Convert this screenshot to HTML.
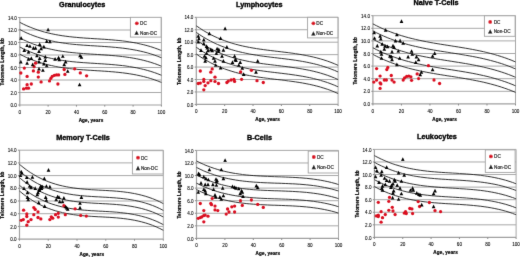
<!DOCTYPE html><html><head><meta charset="utf-8"><style>html,body{margin:0;padding:0;background:#fff;width:520px;height:257px;overflow:hidden}svg{display:block}svg{will-change:transform}</style></head><body>
<div id="w">
<svg width="520" height="257" viewBox="0 0 520 257" font-family='"Liberation Sans", sans-serif'>
<defs><filter id="bl" x="-5%" y="-5%" width="110%" height="110%"><feConvolveMatrix order="3" kernelMatrix="0.0064 0.0672 0.0064 0.0672 0.7056 0.0672 0.0064 0.0672 0.0064" edgeMode="duplicate" preserveAlpha="false"/></filter></defs>
<rect width="520" height="257" fill="#fff"/>
<g filter="url(#bl)">
<line x1="19.80" y1="92.50" x2="161.40" y2="92.50" stroke="#a8a8a8" stroke-width="1"/>
<line x1="19.80" y1="80.00" x2="161.40" y2="80.00" stroke="#a8a8a8" stroke-width="1"/>
<line x1="19.80" y1="67.50" x2="161.40" y2="67.50" stroke="#a8a8a8" stroke-width="1"/>
<line x1="19.80" y1="55.00" x2="161.40" y2="55.00" stroke="#a8a8a8" stroke-width="1"/>
<line x1="19.80" y1="42.50" x2="161.40" y2="42.50" stroke="#a8a8a8" stroke-width="1"/>
<line x1="19.80" y1="30.00" x2="161.40" y2="30.00" stroke="#a8a8a8" stroke-width="1"/>
<line x1="19.80" y1="17.50" x2="161.40" y2="17.50" stroke="#a8a8a8" stroke-width="1"/>
<line x1="161.40" y1="17.50" x2="161.40" y2="105.00" stroke="#a8a8a8" stroke-width="1"/>
<line x1="19.80" y1="17.50" x2="19.80" y2="105.00" stroke="#a0a0a0" stroke-width="1.2"/>
<line x1="19.80" y1="105.00" x2="161.40" y2="105.00" stroke="#a0a0a0" stroke-width="1.2"/>
<line x1="18.20" y1="105.00" x2="19.80" y2="105.00" stroke="#8a8a8a" stroke-width="1"/>
<text x="16.90" y="107.10" font-size="4.6" text-anchor="end" fill="#000" stroke="#000" stroke-width="0.08">0.0</text>
<line x1="18.20" y1="92.50" x2="19.80" y2="92.50" stroke="#8a8a8a" stroke-width="1"/>
<text x="16.90" y="94.60" font-size="4.6" text-anchor="end" fill="#000" stroke="#000" stroke-width="0.08">2.0</text>
<line x1="18.20" y1="80.00" x2="19.80" y2="80.00" stroke="#8a8a8a" stroke-width="1"/>
<text x="16.90" y="82.10" font-size="4.6" text-anchor="end" fill="#000" stroke="#000" stroke-width="0.08">4.0</text>
<line x1="18.20" y1="67.50" x2="19.80" y2="67.50" stroke="#8a8a8a" stroke-width="1"/>
<text x="16.90" y="69.60" font-size="4.6" text-anchor="end" fill="#000" stroke="#000" stroke-width="0.08">6.0</text>
<line x1="18.20" y1="55.00" x2="19.80" y2="55.00" stroke="#8a8a8a" stroke-width="1"/>
<text x="16.90" y="57.10" font-size="4.6" text-anchor="end" fill="#000" stroke="#000" stroke-width="0.08">8.0</text>
<line x1="18.20" y1="42.50" x2="19.80" y2="42.50" stroke="#8a8a8a" stroke-width="1"/>
<text x="16.90" y="44.60" font-size="4.6" text-anchor="end" fill="#000" stroke="#000" stroke-width="0.08">10.0</text>
<line x1="18.20" y1="30.00" x2="19.80" y2="30.00" stroke="#8a8a8a" stroke-width="1"/>
<text x="16.90" y="32.10" font-size="4.6" text-anchor="end" fill="#000" stroke="#000" stroke-width="0.08">12.0</text>
<line x1="18.20" y1="17.50" x2="19.80" y2="17.50" stroke="#8a8a8a" stroke-width="1"/>
<text x="16.90" y="19.60" font-size="4.6" text-anchor="end" fill="#000" stroke="#000" stroke-width="0.08">14.0</text>
<line x1="19.80" y1="105.00" x2="19.80" y2="106.60" stroke="#8a8a8a" stroke-width="1"/>
<text x="19.80" y="113.70" font-size="4.6" text-anchor="middle" fill="#000" stroke="#000" stroke-width="0.08">0</text>
<line x1="48.12" y1="105.00" x2="48.12" y2="106.60" stroke="#8a8a8a" stroke-width="1"/>
<text x="48.12" y="113.70" font-size="4.6" text-anchor="middle" fill="#000" stroke="#000" stroke-width="0.08">20</text>
<line x1="76.44" y1="105.00" x2="76.44" y2="106.60" stroke="#8a8a8a" stroke-width="1"/>
<text x="76.44" y="113.70" font-size="4.6" text-anchor="middle" fill="#000" stroke="#000" stroke-width="0.08">40</text>
<line x1="104.76" y1="105.00" x2="104.76" y2="106.60" stroke="#8a8a8a" stroke-width="1"/>
<text x="104.76" y="113.70" font-size="4.6" text-anchor="middle" fill="#000" stroke="#000" stroke-width="0.08">60</text>
<line x1="133.08" y1="105.00" x2="133.08" y2="106.60" stroke="#8a8a8a" stroke-width="1"/>
<text x="133.08" y="113.70" font-size="4.6" text-anchor="middle" fill="#000" stroke="#000" stroke-width="0.08">80</text>
<line x1="161.40" y1="105.00" x2="161.40" y2="106.60" stroke="#8a8a8a" stroke-width="1"/>
<text x="161.40" y="113.70" font-size="4.6" text-anchor="middle" fill="#000" stroke="#000" stroke-width="0.08">100</text>
<polyline points="19.80,22.35 23.34,24.14 26.88,25.79 30.42,27.29 33.96,28.66 37.50,29.91 41.04,31.03 44.58,32.05 48.12,32.96 51.66,33.78 55.20,34.51 58.74,35.15 62.28,35.72 65.82,36.22 69.36,36.66 72.90,37.05 76.44,37.39 79.98,37.70 83.52,37.97 87.06,38.22 90.60,38.45 94.14,38.67 97.68,38.88 101.22,39.10 104.76,39.34 108.30,39.59 111.84,39.87 115.38,40.18 118.92,40.53 122.46,40.93 126.00,41.39 129.54,41.90 133.08,42.49 136.62,43.15 140.16,43.90 143.70,44.74 147.24,45.67 150.78,46.71 154.32,47.87 157.86,49.14 161.40,50.54" fill="none" stroke="#1a1a1a" stroke-width="0.9"/>
<polyline points="19.80,29.54 23.34,31.33 26.88,32.97 30.42,34.48 33.96,35.85 37.50,37.09 41.04,38.22 44.58,39.24 48.12,40.15 51.66,40.97 55.20,41.69 58.74,42.34 62.28,42.91 65.82,43.41 69.36,43.85 72.90,44.24 76.44,44.58 79.98,44.88 83.52,45.16 87.06,45.40 90.60,45.63 94.14,45.85 97.68,46.07 101.22,46.29 104.76,46.52 108.30,46.78 111.84,47.06 115.38,47.37 118.92,47.72 122.46,48.12 126.00,48.57 129.54,49.09 133.08,49.68 136.62,50.34 140.16,51.09 143.70,51.92 147.24,52.86 150.78,53.90 154.32,55.06 157.86,56.33 161.40,57.73" fill="none" stroke="#1a1a1a" stroke-width="0.9"/>
<polyline points="19.80,37.98 23.34,39.77 26.88,41.41 30.42,42.91 33.96,44.29 37.50,45.53 41.04,46.66 44.58,47.68 48.12,48.59 51.66,49.40 55.20,50.13 58.74,50.78 62.28,51.35 65.82,51.85 69.36,52.29 72.90,52.68 76.44,53.02 79.98,53.32 83.52,53.59 87.06,53.84 90.60,54.07 94.14,54.29 97.68,54.51 101.22,54.73 104.76,54.96 108.30,55.21 111.84,55.49 115.38,55.80 118.92,56.16 122.46,56.56 126.00,57.01 129.54,57.53 133.08,58.11 136.62,58.78 140.16,59.52 143.70,60.36 147.24,61.30 150.78,62.34 154.32,63.49 157.86,64.77 161.40,66.17" fill="none" stroke="#1a1a1a" stroke-width="0.9"/>
<polyline points="19.80,47.04 23.34,48.83 26.88,50.47 30.42,51.98 33.96,53.35 37.50,54.59 41.04,55.72 44.58,56.74 48.12,57.65 51.66,58.47 55.20,59.19 58.74,59.84 62.28,60.41 65.82,60.91 69.36,61.35 72.90,61.74 76.44,62.08 79.98,62.38 83.52,62.66 87.06,62.90 90.60,63.13 94.14,63.35 97.68,63.57 101.22,63.79 104.76,64.02 108.30,64.28 111.84,64.56 115.38,64.87 118.92,65.22 122.46,65.62 126.00,66.07 129.54,66.59 133.08,67.18 136.62,67.84 140.16,68.59 143.70,69.42 147.24,70.36 150.78,71.40 154.32,72.56 157.86,73.83 161.40,75.23" fill="none" stroke="#1a1a1a" stroke-width="0.9"/>
<polyline points="19.80,54.23 23.34,56.02 26.88,57.66 30.42,59.16 33.96,60.54 37.50,61.78 41.04,62.91 44.58,63.93 48.12,64.84 51.66,65.65 55.20,66.38 58.74,67.03 62.28,67.60 65.82,68.10 69.36,68.54 72.90,68.93 76.44,69.27 79.98,69.57 83.52,69.84 87.06,70.09 90.60,70.32 94.14,70.54 97.68,70.76 101.22,70.98 104.76,71.21 108.30,71.46 111.84,71.74 115.38,72.05 118.92,72.41 122.46,72.81 126.00,73.26 129.54,73.78 133.08,74.36 136.62,75.03 140.16,75.77 143.70,76.61 147.24,77.55 150.78,78.59 154.32,79.74 157.86,81.02 161.40,82.42" fill="none" stroke="#1a1a1a" stroke-width="0.9"/>
<circle cx="35.50" cy="63.20" r="1.65" fill="#da1020"/>
<circle cx="34.10" cy="66.70" r="1.65" fill="#da1020"/>
<circle cx="24.30" cy="68.10" r="1.65" fill="#da1020"/>
<circle cx="20.80" cy="73.00" r="1.65" fill="#da1020"/>
<circle cx="27.10" cy="76.40" r="1.65" fill="#da1020"/>
<circle cx="33.40" cy="70.90" r="1.65" fill="#da1020"/>
<circle cx="38.30" cy="72.20" r="1.65" fill="#da1020"/>
<circle cx="38.30" cy="77.10" r="1.65" fill="#da1020"/>
<circle cx="64.20" cy="69.50" r="1.65" fill="#da1020"/>
<circle cx="64.90" cy="74.40" r="1.65" fill="#da1020"/>
<circle cx="74.70" cy="68.80" r="1.65" fill="#da1020"/>
<circle cx="80.30" cy="72.90" r="1.65" fill="#da1020"/>
<circle cx="86.60" cy="75.80" r="1.65" fill="#da1020"/>
<circle cx="41.10" cy="81.90" r="1.65" fill="#da1020"/>
<circle cx="49.50" cy="80.90" r="1.65" fill="#da1020"/>
<circle cx="50.90" cy="78.40" r="1.65" fill="#da1020"/>
<circle cx="52.30" cy="76.30" r="1.65" fill="#da1020"/>
<circle cx="54.40" cy="75.30" r="1.65" fill="#da1020"/>
<circle cx="56.50" cy="74.90" r="1.65" fill="#da1020"/>
<circle cx="58.60" cy="74.90" r="1.65" fill="#da1020"/>
<circle cx="57.90" cy="84.00" r="1.65" fill="#da1020"/>
<circle cx="27.10" cy="84.70" r="1.65" fill="#da1020"/>
<circle cx="31.30" cy="84.00" r="1.65" fill="#da1020"/>
<circle cx="23.60" cy="88.90" r="1.65" fill="#da1020"/>
<circle cx="26.40" cy="88.20" r="1.65" fill="#da1020"/>
<circle cx="28.50" cy="88.20" r="1.65" fill="#da1020"/>
<path d="M48.10 27.66L49.95 31.36L46.25 31.36Z" fill="#000"/>
<path d="M21.10 36.06L22.95 39.77L19.25 39.77Z" fill="#000"/>
<path d="M46.70 39.27L48.55 42.96L44.85 42.96Z" fill="#000"/>
<path d="M49.90 39.56L51.75 43.27L48.05 43.27Z" fill="#000"/>
<path d="M27.10 43.27L28.95 46.96L25.25 46.96Z" fill="#000"/>
<path d="M29.90 44.17L31.75 47.87L28.05 47.87Z" fill="#000"/>
<path d="M39.70 42.36L41.55 46.06L37.85 46.06Z" fill="#000"/>
<path d="M43.90 44.77L45.75 48.46L42.05 48.46Z" fill="#000"/>
<path d="M33.40 46.06L35.25 49.77L31.55 49.77Z" fill="#000"/>
<path d="M35.50 46.06L37.35 49.77L33.65 49.77Z" fill="#000"/>
<path d="M41.10 46.56L42.95 50.27L39.25 50.27Z" fill="#000"/>
<path d="M24.30 48.27L26.15 51.96L22.45 51.96Z" fill="#000"/>
<path d="M39.00 49.27L40.85 52.96L37.15 52.96Z" fill="#000"/>
<path d="M28.50 49.97L30.35 53.66L26.65 53.66Z" fill="#000"/>
<path d="M36.90 53.47L38.75 57.16L35.05 57.16Z" fill="#000"/>
<path d="M28.50 56.97L30.35 60.66L26.65 60.66Z" fill="#000"/>
<path d="M31.30 56.27L33.15 59.96L29.45 59.96Z" fill="#000"/>
<path d="M39.70 56.27L41.55 59.96L37.85 59.96Z" fill="#000"/>
<path d="M45.30 54.86L47.15 58.56L43.45 58.56Z" fill="#000"/>
<path d="M45.30 58.36L47.15 62.06L43.45 62.06Z" fill="#000"/>
<path d="M55.10 56.97L56.95 60.66L53.25 60.66Z" fill="#000"/>
<path d="M58.60 55.56L60.45 59.27L56.75 59.27Z" fill="#000"/>
<path d="M59.30 57.67L61.15 61.37L57.45 61.37Z" fill="#000"/>
<path d="M62.80 54.17L64.65 57.87L60.95 57.87Z" fill="#000"/>
<path d="M80.00 53.56L81.85 57.27L78.15 57.27Z" fill="#000"/>
<path d="M81.40 54.97L83.25 58.66L79.55 58.66Z" fill="#000"/>
<path d="M20.80 59.77L22.65 63.46L18.95 63.46Z" fill="#000"/>
<path d="M27.10 61.17L28.95 64.87L25.25 64.87Z" fill="#000"/>
<path d="M32.70 62.56L34.55 66.27L30.85 66.27Z" fill="#000"/>
<path d="M39.00 59.77L40.85 63.46L37.15 63.46Z" fill="#000"/>
<path d="M43.90 61.86L45.75 65.56L42.05 65.56Z" fill="#000"/>
<path d="M46.70 63.67L48.55 67.37L44.85 67.37Z" fill="#000"/>
<path d="M65.60 59.77L67.45 63.46L63.75 63.46Z" fill="#000"/>
<path d="M64.20 62.56L66.05 66.27L62.35 66.27Z" fill="#000"/>
<path d="M39.00 66.77L40.85 70.47L37.15 70.47Z" fill="#000"/>
<path d="M42.90 68.17L44.75 71.87L41.05 71.87Z" fill="#000"/>
<path d="M67.70 69.17L69.55 72.87L65.85 72.87Z" fill="#000"/>
<path d="M79.60 82.67L81.45 86.37L77.75 86.37Z" fill="#000"/>
<rect x="130.40" y="17.30" width="30.70" height="19.80" fill="#fff" stroke="#a0a0a0" stroke-width="0.9"/>
<circle cx="136.80" cy="23.30" r="1.9" fill="#da1020"/>
<text x="140.10" y="25.10" font-size="4.7" fill="#000" stroke="#000" stroke-width="0.15">DC</text>
<path d="M136.60 30.38L138.80 34.78L134.40 34.78Z" fill="#000"/>
<text x="140.10" y="34.60" font-size="4.7" fill="#000" stroke="#000" stroke-width="0.15">Non-DC</text>
<text x="82.20" y="6.60" font-size="7.25" font-weight="bold" text-anchor="middle" fill="#000" stroke="#000" stroke-width="0.35">Granulocytes</text>
<text x="91.00" y="121.70" font-size="4.6" letter-spacing="0.15" stroke="#000" stroke-width="0.22" font-weight="bold" text-anchor="middle" fill="#111">Age, years</text>
<text transform="translate(4.00,61.75) rotate(-90)" x="0" y="0" font-size="4.6" letter-spacing="0.15" stroke="#000" stroke-width="0.22" font-weight="bold" text-anchor="middle" fill="#111">Telomere Length, kb</text>
<line x1="196.30" y1="91.96" x2="338.10" y2="91.96" stroke="#a8a8a8" stroke-width="1"/>
<line x1="196.30" y1="79.51" x2="338.10" y2="79.51" stroke="#a8a8a8" stroke-width="1"/>
<line x1="196.30" y1="67.07" x2="338.10" y2="67.07" stroke="#a8a8a8" stroke-width="1"/>
<line x1="196.30" y1="54.63" x2="338.10" y2="54.63" stroke="#a8a8a8" stroke-width="1"/>
<line x1="196.30" y1="42.19" x2="338.10" y2="42.19" stroke="#a8a8a8" stroke-width="1"/>
<line x1="196.30" y1="29.74" x2="338.10" y2="29.74" stroke="#a8a8a8" stroke-width="1"/>
<line x1="196.30" y1="17.30" x2="338.10" y2="17.30" stroke="#a8a8a8" stroke-width="1"/>
<line x1="338.10" y1="17.30" x2="338.10" y2="104.40" stroke="#a8a8a8" stroke-width="1"/>
<line x1="196.30" y1="17.30" x2="196.30" y2="104.40" stroke="#a0a0a0" stroke-width="1.2"/>
<line x1="196.30" y1="104.40" x2="338.10" y2="104.40" stroke="#a0a0a0" stroke-width="1.2"/>
<line x1="194.70" y1="104.40" x2="196.30" y2="104.40" stroke="#8a8a8a" stroke-width="1"/>
<text x="193.40" y="106.50" font-size="4.6" text-anchor="end" fill="#000" stroke="#000" stroke-width="0.08">0.0</text>
<line x1="194.70" y1="91.96" x2="196.30" y2="91.96" stroke="#8a8a8a" stroke-width="1"/>
<text x="193.40" y="94.06" font-size="4.6" text-anchor="end" fill="#000" stroke="#000" stroke-width="0.08">2.0</text>
<line x1="194.70" y1="79.51" x2="196.30" y2="79.51" stroke="#8a8a8a" stroke-width="1"/>
<text x="193.40" y="81.61" font-size="4.6" text-anchor="end" fill="#000" stroke="#000" stroke-width="0.08">4.0</text>
<line x1="194.70" y1="67.07" x2="196.30" y2="67.07" stroke="#8a8a8a" stroke-width="1"/>
<text x="193.40" y="69.17" font-size="4.6" text-anchor="end" fill="#000" stroke="#000" stroke-width="0.08">6.0</text>
<line x1="194.70" y1="54.63" x2="196.30" y2="54.63" stroke="#8a8a8a" stroke-width="1"/>
<text x="193.40" y="56.73" font-size="4.6" text-anchor="end" fill="#000" stroke="#000" stroke-width="0.08">8.0</text>
<line x1="194.70" y1="42.19" x2="196.30" y2="42.19" stroke="#8a8a8a" stroke-width="1"/>
<text x="193.40" y="44.29" font-size="4.6" text-anchor="end" fill="#000" stroke="#000" stroke-width="0.08">10.0</text>
<line x1="194.70" y1="29.74" x2="196.30" y2="29.74" stroke="#8a8a8a" stroke-width="1"/>
<text x="193.40" y="31.84" font-size="4.6" text-anchor="end" fill="#000" stroke="#000" stroke-width="0.08">12.0</text>
<line x1="194.70" y1="17.30" x2="196.30" y2="17.30" stroke="#8a8a8a" stroke-width="1"/>
<text x="193.40" y="19.40" font-size="4.6" text-anchor="end" fill="#000" stroke="#000" stroke-width="0.08">14.0</text>
<line x1="196.30" y1="104.40" x2="196.30" y2="106.00" stroke="#8a8a8a" stroke-width="1"/>
<text x="196.30" y="113.10" font-size="4.6" text-anchor="middle" fill="#000" stroke="#000" stroke-width="0.08">0</text>
<line x1="224.66" y1="104.40" x2="224.66" y2="106.00" stroke="#8a8a8a" stroke-width="1"/>
<text x="224.66" y="113.10" font-size="4.6" text-anchor="middle" fill="#000" stroke="#000" stroke-width="0.08">20</text>
<line x1="253.02" y1="104.40" x2="253.02" y2="106.00" stroke="#8a8a8a" stroke-width="1"/>
<text x="253.02" y="113.10" font-size="4.6" text-anchor="middle" fill="#000" stroke="#000" stroke-width="0.08">40</text>
<line x1="281.38" y1="104.40" x2="281.38" y2="106.00" stroke="#8a8a8a" stroke-width="1"/>
<text x="281.38" y="113.10" font-size="4.6" text-anchor="middle" fill="#000" stroke="#000" stroke-width="0.08">60</text>
<line x1="309.74" y1="104.40" x2="309.74" y2="106.00" stroke="#8a8a8a" stroke-width="1"/>
<text x="309.74" y="113.10" font-size="4.6" text-anchor="middle" fill="#000" stroke="#000" stroke-width="0.08">80</text>
<line x1="338.10" y1="104.40" x2="338.10" y2="106.00" stroke="#8a8a8a" stroke-width="1"/>
<text x="338.10" y="113.10" font-size="4.6" text-anchor="middle" fill="#000" stroke="#000" stroke-width="0.08">100</text>
<polyline points="196.30,25.84 199.84,28.26 203.39,30.50 206.94,32.58 210.48,34.50 214.03,36.26 217.57,37.89 221.12,39.38 224.66,40.74 228.21,41.98 231.75,43.11 235.30,44.14 238.84,45.08 242.39,45.93 245.93,46.70 249.48,47.39 253.02,48.03 256.56,48.61 260.11,49.15 263.66,49.64 267.20,50.11 270.75,50.55 274.29,50.98 277.84,51.40 281.38,51.83 284.93,52.26 288.47,52.71 292.01,53.19 295.56,53.70 299.11,54.25 302.65,54.85 306.20,55.51 309.74,56.23 313.29,57.03 316.83,57.91 320.38,58.88 323.92,59.94 327.47,61.12 331.01,62.40 334.56,63.81 338.10,65.35" fill="none" stroke="#1a1a1a" stroke-width="0.9"/>
<polyline points="196.30,32.44 199.84,34.85 203.39,37.10 206.94,39.17 210.48,41.09 214.03,42.86 217.57,44.48 221.12,45.97 224.66,47.33 228.21,48.58 231.75,49.71 235.30,50.74 238.84,51.67 242.39,52.52 245.93,53.29 249.48,53.99 253.02,54.62 256.56,55.21 260.11,55.74 263.66,56.24 267.20,56.70 270.75,57.15 274.29,57.57 277.84,58.00 281.38,58.42 284.93,58.85 288.47,59.30 292.01,59.78 295.56,60.29 299.11,60.84 302.65,61.44 306.20,62.10 309.74,62.83 313.29,63.62 316.83,64.50 320.38,65.47 323.92,66.54 327.47,67.71 331.01,69.00 334.56,70.41 338.10,71.95" fill="none" stroke="#1a1a1a" stroke-width="0.9"/>
<polyline points="196.30,40.03 199.84,42.44 203.39,44.69 206.94,46.76 210.48,48.68 214.03,50.45 217.57,52.07 221.12,53.56 224.66,54.92 228.21,56.17 231.75,57.30 235.30,58.33 238.84,59.26 242.39,60.11 245.93,60.88 249.48,61.58 253.02,62.21 256.56,62.80 260.11,63.33 263.66,63.83 267.20,64.29 270.75,64.74 274.29,65.16 277.84,65.59 281.38,66.01 284.93,66.44 288.47,66.89 292.01,67.37 295.56,67.88 299.11,68.43 302.65,69.03 306.20,69.69 309.74,70.42 313.29,71.21 316.83,72.09 320.38,73.06 323.92,74.13 327.47,75.30 331.01,76.59 334.56,78.00 338.10,79.54" fill="none" stroke="#1a1a1a" stroke-width="0.9"/>
<polyline points="196.30,47.30 199.84,49.72 203.39,51.97 206.94,54.04 210.48,55.96 214.03,57.73 217.57,59.35 221.12,60.84 224.66,62.20 228.21,63.44 231.75,64.58 235.30,65.61 238.84,66.54 242.39,67.39 245.93,68.16 249.48,68.86 253.02,69.49 256.56,70.08 260.11,70.61 263.66,71.11 267.20,71.57 270.75,72.02 274.29,72.44 277.84,72.87 281.38,73.29 284.93,73.72 288.47,74.17 292.01,74.65 295.56,75.16 299.11,75.71 302.65,76.31 306.20,76.97 309.74,77.69 313.29,78.49 316.83,79.37 320.38,80.34 323.92,81.41 327.47,82.58 331.01,83.87 334.56,85.28 338.10,86.81" fill="none" stroke="#1a1a1a" stroke-width="0.9"/>
<polyline points="196.30,54.02 199.84,56.44 203.39,58.69 206.94,60.76 210.48,62.68 214.03,64.45 217.57,66.07 221.12,67.56 224.66,68.92 228.21,70.16 231.75,71.30 235.30,72.33 238.84,73.26 242.39,74.11 245.93,74.88 249.48,75.58 253.02,76.21 256.56,76.79 260.11,77.33 263.66,77.83 267.20,78.29 270.75,78.73 274.29,79.16 277.84,79.59 281.38,80.01 284.93,80.44 288.47,80.89 292.01,81.37 295.56,81.88 299.11,82.43 302.65,83.03 306.20,83.69 309.74,84.41 313.29,85.21 316.83,86.09 320.38,87.06 323.92,88.13 327.47,89.30 331.01,90.59 334.56,92.00 338.10,93.53" fill="none" stroke="#1a1a1a" stroke-width="0.9"/>
<circle cx="200.30" cy="71.00" r="1.65" fill="#da1020"/>
<circle cx="212.20" cy="68.90" r="1.65" fill="#da1020"/>
<circle cx="210.80" cy="72.20" r="1.65" fill="#da1020"/>
<circle cx="240.60" cy="71.90" r="1.65" fill="#da1020"/>
<circle cx="251.40" cy="70.30" r="1.65" fill="#da1020"/>
<circle cx="203.80" cy="79.30" r="1.65" fill="#da1020"/>
<circle cx="198.20" cy="83.50" r="1.65" fill="#da1020"/>
<circle cx="200.30" cy="83.10" r="1.65" fill="#da1020"/>
<circle cx="203.80" cy="81.40" r="1.65" fill="#da1020"/>
<circle cx="205.20" cy="85.60" r="1.65" fill="#da1020"/>
<circle cx="203.80" cy="89.80" r="1.65" fill="#da1020"/>
<circle cx="208.00" cy="82.80" r="1.65" fill="#da1020"/>
<circle cx="210.80" cy="80.70" r="1.65" fill="#da1020"/>
<circle cx="215.00" cy="77.20" r="1.65" fill="#da1020"/>
<circle cx="215.00" cy="81.40" r="1.65" fill="#da1020"/>
<circle cx="218.50" cy="83.50" r="1.65" fill="#da1020"/>
<circle cx="226.90" cy="82.50" r="1.65" fill="#da1020"/>
<circle cx="228.30" cy="81.10" r="1.65" fill="#da1020"/>
<circle cx="231.10" cy="80.00" r="1.65" fill="#da1020"/>
<circle cx="233.90" cy="79.30" r="1.65" fill="#da1020"/>
<circle cx="234.60" cy="81.40" r="1.65" fill="#da1020"/>
<circle cx="241.60" cy="79.30" r="1.65" fill="#da1020"/>
<circle cx="257.00" cy="80.70" r="1.65" fill="#da1020"/>
<circle cx="263.30" cy="82.50" r="1.65" fill="#da1020"/>
<path d="M225.10 26.57L226.95 30.27L223.25 30.27Z" fill="#000"/>
<path d="M209.40 31.46L211.25 35.16L207.55 35.16Z" fill="#000"/>
<path d="M220.60 36.36L222.45 40.06L218.75 40.06Z" fill="#000"/>
<path d="M198.20 33.97L200.05 37.66L196.35 37.66Z" fill="#000"/>
<path d="M198.90 36.47L200.75 40.16L197.05 40.16Z" fill="#000"/>
<path d="M203.80 37.86L205.65 41.56L201.95 41.56Z" fill="#000"/>
<path d="M198.20 39.77L200.05 43.46L196.35 43.46Z" fill="#000"/>
<path d="M203.80 41.56L205.65 45.27L201.95 45.27Z" fill="#000"/>
<path d="M206.60 44.36L208.45 48.06L204.75 48.06Z" fill="#000"/>
<path d="M207.30 45.86L209.15 49.56L205.45 49.56Z" fill="#000"/>
<path d="M210.80 47.47L212.65 51.16L208.95 51.16Z" fill="#000"/>
<path d="M212.20 48.47L214.05 52.16L210.35 52.16Z" fill="#000"/>
<path d="M217.10 46.77L218.95 50.46L215.25 50.46Z" fill="#000"/>
<path d="M218.80 47.47L220.65 51.16L216.95 51.16Z" fill="#000"/>
<path d="M223.40 48.06L225.25 51.77L221.55 51.77Z" fill="#000"/>
<path d="M226.90 45.06L228.75 48.77L225.05 48.77Z" fill="#000"/>
<path d="M201.00 48.27L202.85 51.96L199.15 51.96Z" fill="#000"/>
<path d="M208.00 48.47L209.85 52.16L206.15 52.16Z" fill="#000"/>
<path d="M218.50 49.17L220.35 52.87L216.65 52.87Z" fill="#000"/>
<path d="M206.60 51.27L208.45 54.96L204.75 54.96Z" fill="#000"/>
<path d="M216.40 51.27L218.25 54.96L214.55 54.96Z" fill="#000"/>
<path d="M204.50 54.06L206.35 57.77L202.65 57.77Z" fill="#000"/>
<path d="M205.90 55.47L207.75 59.16L204.05 59.16Z" fill="#000"/>
<path d="M222.00 54.06L223.85 57.77L220.15 57.77Z" fill="#000"/>
<path d="M213.60 56.17L215.45 59.87L211.75 59.87Z" fill="#000"/>
<path d="M234.60 54.06L236.45 57.77L232.75 57.77Z" fill="#000"/>
<path d="M235.30 57.56L237.15 61.27L233.45 61.27Z" fill="#000"/>
<path d="M236.00 58.27L237.85 61.96L234.15 61.96Z" fill="#000"/>
<path d="M205.20 58.97L207.05 62.66L203.35 62.66Z" fill="#000"/>
<path d="M215.00 58.97L216.85 62.66L213.15 62.66Z" fill="#000"/>
<path d="M223.40 58.97L225.25 62.66L221.55 62.66Z" fill="#000"/>
<path d="M232.50 60.36L234.35 64.06L230.65 64.06Z" fill="#000"/>
<path d="M240.20 60.36L242.05 64.06L238.35 64.06Z" fill="#000"/>
<path d="M238.80 63.17L240.65 66.87L236.95 66.87Z" fill="#000"/>
<path d="M257.70 58.97L259.55 62.66L255.85 62.66Z" fill="#000"/>
<path d="M215.70 63.17L217.55 66.87L213.85 66.87Z" fill="#000"/>
<path d="M220.60 65.77L222.45 69.47L218.75 69.47Z" fill="#000"/>
<path d="M242.30 65.97L244.15 69.67L240.45 69.67Z" fill="#000"/>
<path d="M256.00 69.97L257.85 73.67L254.15 73.67Z" fill="#000"/>
<path d="M243.70 72.37L245.55 76.07L241.85 76.07Z" fill="#000"/>
<rect x="307.60" y="17.30" width="30.30" height="20.60" fill="#fff" stroke="#a0a0a0" stroke-width="0.9"/>
<circle cx="313.40" cy="23.30" r="1.9" fill="#da1020"/>
<text x="316.30" y="25.10" font-size="4.7" fill="#000" stroke="#000" stroke-width="0.15">DC</text>
<path d="M313.40 31.18L315.60 35.58L311.20 35.58Z" fill="#000"/>
<text x="316.30" y="35.40" font-size="4.7" fill="#000" stroke="#000" stroke-width="0.15">Non-DC</text>
<text x="259.25" y="6.60" font-size="7.25" font-weight="bold" text-anchor="middle" fill="#000" stroke="#000" stroke-width="0.35">Lymphocytes</text>
<text x="267.60" y="121.10" font-size="4.6" letter-spacing="0.15" stroke="#000" stroke-width="0.22" font-weight="bold" text-anchor="middle" fill="#111">Age, years</text>
<text transform="translate(180.50,61.35) rotate(-90)" x="0" y="0" font-size="4.6" letter-spacing="0.15" stroke="#000" stroke-width="0.22" font-weight="bold" text-anchor="middle" fill="#111">Telomere Length, kb</text>
<line x1="372.90" y1="91.30" x2="515.50" y2="91.30" stroke="#a8a8a8" stroke-width="1"/>
<line x1="372.90" y1="78.70" x2="515.50" y2="78.70" stroke="#a8a8a8" stroke-width="1"/>
<line x1="372.90" y1="66.10" x2="515.50" y2="66.10" stroke="#a8a8a8" stroke-width="1"/>
<line x1="372.90" y1="53.50" x2="515.50" y2="53.50" stroke="#a8a8a8" stroke-width="1"/>
<line x1="372.90" y1="40.90" x2="515.50" y2="40.90" stroke="#a8a8a8" stroke-width="1"/>
<line x1="372.90" y1="28.30" x2="515.50" y2="28.30" stroke="#a8a8a8" stroke-width="1"/>
<line x1="372.90" y1="15.70" x2="515.50" y2="15.70" stroke="#a8a8a8" stroke-width="1"/>
<line x1="515.50" y1="15.70" x2="515.50" y2="103.90" stroke="#a8a8a8" stroke-width="1"/>
<line x1="372.90" y1="15.70" x2="372.90" y2="103.90" stroke="#a0a0a0" stroke-width="1.2"/>
<line x1="372.90" y1="103.90" x2="515.50" y2="103.90" stroke="#a0a0a0" stroke-width="1.2"/>
<line x1="371.30" y1="103.90" x2="372.90" y2="103.90" stroke="#8a8a8a" stroke-width="1"/>
<text x="370.00" y="106.00" font-size="4.6" text-anchor="end" fill="#000" stroke="#000" stroke-width="0.08">0.0</text>
<line x1="371.30" y1="91.30" x2="372.90" y2="91.30" stroke="#8a8a8a" stroke-width="1"/>
<text x="370.00" y="93.40" font-size="4.6" text-anchor="end" fill="#000" stroke="#000" stroke-width="0.08">2.0</text>
<line x1="371.30" y1="78.70" x2="372.90" y2="78.70" stroke="#8a8a8a" stroke-width="1"/>
<text x="370.00" y="80.80" font-size="4.6" text-anchor="end" fill="#000" stroke="#000" stroke-width="0.08">4.0</text>
<line x1="371.30" y1="66.10" x2="372.90" y2="66.10" stroke="#8a8a8a" stroke-width="1"/>
<text x="370.00" y="68.20" font-size="4.6" text-anchor="end" fill="#000" stroke="#000" stroke-width="0.08">6.0</text>
<line x1="371.30" y1="53.50" x2="372.90" y2="53.50" stroke="#8a8a8a" stroke-width="1"/>
<text x="370.00" y="55.60" font-size="4.6" text-anchor="end" fill="#000" stroke="#000" stroke-width="0.08">8.0</text>
<line x1="371.30" y1="40.90" x2="372.90" y2="40.90" stroke="#8a8a8a" stroke-width="1"/>
<text x="370.00" y="43.00" font-size="4.6" text-anchor="end" fill="#000" stroke="#000" stroke-width="0.08">10.0</text>
<line x1="371.30" y1="28.30" x2="372.90" y2="28.30" stroke="#8a8a8a" stroke-width="1"/>
<text x="370.00" y="30.40" font-size="4.6" text-anchor="end" fill="#000" stroke="#000" stroke-width="0.08">12.0</text>
<line x1="371.30" y1="15.70" x2="372.90" y2="15.70" stroke="#8a8a8a" stroke-width="1"/>
<text x="370.00" y="17.80" font-size="4.6" text-anchor="end" fill="#000" stroke="#000" stroke-width="0.08">14.0</text>
<line x1="372.90" y1="103.90" x2="372.90" y2="105.50" stroke="#8a8a8a" stroke-width="1"/>
<text x="372.90" y="112.60" font-size="4.6" text-anchor="middle" fill="#000" stroke="#000" stroke-width="0.08">0</text>
<line x1="401.42" y1="103.90" x2="401.42" y2="105.50" stroke="#8a8a8a" stroke-width="1"/>
<text x="401.42" y="112.60" font-size="4.6" text-anchor="middle" fill="#000" stroke="#000" stroke-width="0.08">20</text>
<line x1="429.94" y1="103.90" x2="429.94" y2="105.50" stroke="#8a8a8a" stroke-width="1"/>
<text x="429.94" y="112.60" font-size="4.6" text-anchor="middle" fill="#000" stroke="#000" stroke-width="0.08">40</text>
<line x1="458.46" y1="103.90" x2="458.46" y2="105.50" stroke="#8a8a8a" stroke-width="1"/>
<text x="458.46" y="112.60" font-size="4.6" text-anchor="middle" fill="#000" stroke="#000" stroke-width="0.08">60</text>
<line x1="486.98" y1="103.90" x2="486.98" y2="105.50" stroke="#8a8a8a" stroke-width="1"/>
<text x="486.98" y="112.60" font-size="4.6" text-anchor="middle" fill="#000" stroke="#000" stroke-width="0.08">80</text>
<line x1="515.50" y1="103.90" x2="515.50" y2="105.50" stroke="#8a8a8a" stroke-width="1"/>
<text x="515.50" y="112.60" font-size="4.6" text-anchor="middle" fill="#000" stroke="#000" stroke-width="0.08">100</text>
<polyline points="372.90,23.89 376.46,25.74 380.03,27.47 383.59,29.08 387.16,30.59 390.72,31.99 394.29,33.30 397.85,34.52 401.42,35.65 404.98,36.71 408.55,37.69 412.12,38.61 415.68,39.46 419.25,40.26 422.81,41.01 426.38,41.71 429.94,42.38 433.50,43.01 437.07,43.62 440.63,44.21 444.20,44.78 447.76,45.34 451.33,45.90 454.89,46.46 458.46,47.03 462.02,47.61 465.59,48.21 469.15,48.83 472.72,49.49 476.28,50.19 479.85,50.92 483.41,51.71 486.98,52.55 490.54,53.45 494.11,54.41 497.68,55.45 501.24,56.57 504.80,57.76 508.37,59.05 511.94,60.43 515.50,61.91" fill="none" stroke="#1a1a1a" stroke-width="0.9"/>
<polyline points="372.90,30.88 376.46,32.73 380.03,34.46 383.59,36.07 387.16,37.58 390.72,38.99 394.29,40.29 397.85,41.51 401.42,42.65 404.98,43.70 408.55,44.69 412.12,45.60 415.68,46.45 419.25,47.25 422.81,48.00 426.38,48.71 429.94,49.37 433.50,50.01 437.07,50.61 440.63,51.20 444.20,51.77 447.76,52.33 451.33,52.89 454.89,53.45 458.46,54.02 462.02,54.60 465.59,55.20 469.15,55.83 472.72,56.49 476.28,57.18 479.85,57.92 483.41,58.70 486.98,59.54 490.54,60.44 494.11,61.41 497.68,62.44 501.24,63.56 504.80,64.76 508.37,66.04 511.94,67.42 515.50,68.90" fill="none" stroke="#1a1a1a" stroke-width="0.9"/>
<polyline points="372.90,39.26 376.46,41.11 380.03,42.84 383.59,44.45 387.16,45.96 390.72,47.36 394.29,48.67 397.85,49.89 401.42,51.03 404.98,52.08 408.55,53.06 412.12,53.98 415.68,54.83 419.25,55.63 422.81,56.38 426.38,57.09 429.94,57.75 433.50,58.39 437.07,58.99 440.63,59.58 444.20,60.15 447.76,60.71 451.33,61.27 454.89,61.83 458.46,62.40 462.02,62.98 465.59,63.58 469.15,64.21 472.72,64.86 476.28,65.56 479.85,66.30 483.41,67.08 486.98,67.92 490.54,68.82 494.11,69.79 497.68,70.82 501.24,71.94 504.80,73.13 508.37,74.42 511.94,75.80 515.50,77.28" fill="none" stroke="#1a1a1a" stroke-width="0.9"/>
<polyline points="372.90,47.77 376.46,49.62 380.03,51.34 383.59,52.96 387.16,54.46 390.72,55.87 394.29,57.18 397.85,58.40 401.42,59.53 404.98,60.59 408.55,61.57 412.12,62.48 415.68,63.34 419.25,64.14 422.81,64.89 426.38,65.59 429.94,66.26 433.50,66.89 437.07,67.50 440.63,68.08 444.20,68.65 447.76,69.22 451.33,69.77 454.89,70.33 458.46,70.90 462.02,71.48 465.59,72.09 469.15,72.71 472.72,73.37 476.28,74.06 479.85,74.80 483.41,75.59 486.98,76.43 490.54,77.33 494.11,78.29 497.68,79.33 501.24,80.44 504.80,81.64 508.37,82.93 511.94,84.31 515.50,85.79" fill="none" stroke="#1a1a1a" stroke-width="0.9"/>
<polyline points="372.90,54.38 376.46,56.23 380.03,57.96 383.59,59.57 387.16,61.08 390.72,62.48 394.29,63.79 397.85,65.01 401.42,66.15 404.98,67.20 408.55,68.18 412.12,69.10 415.68,69.95 419.25,70.75 422.81,71.50 426.38,72.21 429.94,72.87 433.50,73.51 437.07,74.11 440.63,74.70 444.20,75.27 447.76,75.83 451.33,76.39 454.89,76.95 458.46,77.52 462.02,78.10 465.59,78.70 469.15,79.33 472.72,79.98 476.28,80.68 479.85,81.42 483.41,82.20 486.98,83.04 490.54,83.94 494.11,84.91 497.68,85.94 501.24,87.06 504.80,88.25 508.37,89.54 511.94,90.92 515.50,92.40" fill="none" stroke="#1a1a1a" stroke-width="0.9"/>
<circle cx="376.60" cy="68.60" r="1.65" fill="#da1020"/>
<circle cx="387.80" cy="67.40" r="1.65" fill="#da1020"/>
<circle cx="386.80" cy="69.60" r="1.65" fill="#da1020"/>
<circle cx="428.40" cy="65.70" r="1.65" fill="#da1020"/>
<circle cx="417.20" cy="73.90" r="1.65" fill="#da1020"/>
<circle cx="380.10" cy="76.10" r="1.65" fill="#da1020"/>
<circle cx="391.30" cy="75.50" r="1.65" fill="#da1020"/>
<circle cx="373.80" cy="82.10" r="1.65" fill="#da1020"/>
<circle cx="376.60" cy="80.00" r="1.65" fill="#da1020"/>
<circle cx="380.10" cy="82.80" r="1.65" fill="#da1020"/>
<circle cx="380.80" cy="83.90" r="1.65" fill="#da1020"/>
<circle cx="380.10" cy="88.40" r="1.65" fill="#da1020"/>
<circle cx="384.30" cy="80.00" r="1.65" fill="#da1020"/>
<circle cx="386.40" cy="80.00" r="1.65" fill="#da1020"/>
<circle cx="392.00" cy="80.00" r="1.65" fill="#da1020"/>
<circle cx="394.10" cy="82.10" r="1.65" fill="#da1020"/>
<circle cx="403.20" cy="80.00" r="1.65" fill="#da1020"/>
<circle cx="404.60" cy="77.90" r="1.65" fill="#da1020"/>
<circle cx="406.70" cy="76.50" r="1.65" fill="#da1020"/>
<circle cx="408.80" cy="76.10" r="1.65" fill="#da1020"/>
<circle cx="410.90" cy="76.90" r="1.65" fill="#da1020"/>
<circle cx="411.60" cy="80.30" r="1.65" fill="#da1020"/>
<circle cx="418.60" cy="78.60" r="1.65" fill="#da1020"/>
<circle cx="434.00" cy="80.00" r="1.65" fill="#da1020"/>
<circle cx="439.60" cy="83.50" r="1.65" fill="#da1020"/>
<path d="M401.50 19.36L403.35 23.06L399.65 23.06Z" fill="#000"/>
<path d="M385.70 28.07L387.55 31.77L383.85 31.77Z" fill="#000"/>
<path d="M396.90 32.67L398.75 36.37L395.05 36.37Z" fill="#000"/>
<path d="M374.10 30.57L375.95 34.27L372.25 34.27Z" fill="#000"/>
<path d="M374.50 36.17L376.35 39.87L372.65 39.87Z" fill="#000"/>
<path d="M380.10 34.06L381.95 37.77L378.25 37.77Z" fill="#000"/>
<path d="M380.80 36.86L382.65 40.56L378.95 40.56Z" fill="#000"/>
<path d="M395.50 38.86L397.35 42.56L393.65 42.56Z" fill="#000"/>
<path d="M400.10 38.47L401.95 42.16L398.25 42.16Z" fill="#000"/>
<path d="M403.20 40.97L405.05 44.66L401.35 44.66Z" fill="#000"/>
<path d="M377.30 43.77L379.15 47.46L375.45 47.46Z" fill="#000"/>
<path d="M382.20 41.97L384.05 45.66L380.35 45.66Z" fill="#000"/>
<path d="M385.00 43.97L386.85 47.66L383.15 47.66Z" fill="#000"/>
<path d="M387.50 44.47L389.35 48.16L385.65 48.16Z" fill="#000"/>
<path d="M393.00 43.77L394.85 47.46L391.15 47.46Z" fill="#000"/>
<path d="M394.10 45.36L395.95 49.06L392.25 49.06Z" fill="#000"/>
<path d="M384.30 47.06L386.15 50.77L382.45 50.77Z" fill="#000"/>
<path d="M380.80 49.86L382.65 53.56L378.95 53.56Z" fill="#000"/>
<path d="M381.50 51.97L383.35 55.66L379.65 55.66Z" fill="#000"/>
<path d="M392.00 49.86L393.85 53.56L390.15 53.56Z" fill="#000"/>
<path d="M398.30 49.17L400.15 52.87L396.45 52.87Z" fill="#000"/>
<path d="M389.90 54.06L391.75 57.77L388.05 57.77Z" fill="#000"/>
<path d="M391.30 54.77L393.15 58.46L389.45 58.46Z" fill="#000"/>
<path d="M381.50 56.17L383.35 59.87L379.65 59.87Z" fill="#000"/>
<path d="M392.00 57.56L393.85 61.27L390.15 61.27Z" fill="#000"/>
<path d="M399.70 56.17L401.55 59.87L397.85 59.87Z" fill="#000"/>
<path d="M408.10 54.77L409.95 58.46L406.25 58.46Z" fill="#000"/>
<path d="M411.60 49.17L413.45 52.87L409.75 52.87Z" fill="#000"/>
<path d="M412.30 51.97L414.15 55.66L410.45 55.66Z" fill="#000"/>
<path d="M416.50 54.77L418.35 58.46L414.65 58.46Z" fill="#000"/>
<path d="M418.60 57.56L420.45 61.27L416.75 61.27Z" fill="#000"/>
<path d="M415.80 60.36L417.65 64.06L413.95 64.06Z" fill="#000"/>
<path d="M396.90 62.47L398.75 66.17L395.05 66.17Z" fill="#000"/>
<path d="M434.70 51.27L436.55 54.96L432.85 54.96Z" fill="#000"/>
<path d="M432.60 54.06L434.45 57.77L430.75 57.77Z" fill="#000"/>
<path d="M432.60 67.56L434.45 71.27L430.75 71.27Z" fill="#000"/>
<path d="M421.40 70.17L423.25 73.87L419.55 73.87Z" fill="#000"/>
<path d="M420.20 72.56L422.05 76.27L418.35 76.27Z" fill="#000"/>
<rect x="484.40" y="15.80" width="30.70" height="20.50" fill="#fff" stroke="#a0a0a0" stroke-width="0.9"/>
<circle cx="490.20" cy="21.90" r="1.9" fill="#da1020"/>
<text x="493.70" y="23.70" font-size="4.7" fill="#000" stroke="#000" stroke-width="0.15">DC</text>
<path d="M490.20 29.18L492.40 33.58L488.00 33.58Z" fill="#000"/>
<text x="493.70" y="33.40" font-size="4.7" fill="#000" stroke="#000" stroke-width="0.15">Non-DC</text>
<text x="436.00" y="5.00" font-size="7.25" font-weight="bold" text-anchor="middle" fill="#000" stroke="#000" stroke-width="0.35">Naive T-Cells</text>
<text x="444.60" y="120.60" font-size="4.6" letter-spacing="0.15" stroke="#000" stroke-width="0.22" font-weight="bold" text-anchor="middle" fill="#111">Age, years</text>
<text transform="translate(357.10,60.80) rotate(-90)" x="0" y="0" font-size="4.6" letter-spacing="0.15" stroke="#000" stroke-width="0.22" font-weight="bold" text-anchor="middle" fill="#111">Telomere Length, kb</text>
<line x1="19.50" y1="226.40" x2="163.30" y2="226.40" stroke="#a8a8a8" stroke-width="1"/>
<line x1="19.50" y1="213.70" x2="163.30" y2="213.70" stroke="#a8a8a8" stroke-width="1"/>
<line x1="19.50" y1="201.00" x2="163.30" y2="201.00" stroke="#a8a8a8" stroke-width="1"/>
<line x1="19.50" y1="188.30" x2="163.30" y2="188.30" stroke="#a8a8a8" stroke-width="1"/>
<line x1="19.50" y1="175.60" x2="163.30" y2="175.60" stroke="#a8a8a8" stroke-width="1"/>
<line x1="19.50" y1="162.90" x2="163.30" y2="162.90" stroke="#a8a8a8" stroke-width="1"/>
<line x1="19.50" y1="150.20" x2="163.30" y2="150.20" stroke="#a8a8a8" stroke-width="1"/>
<line x1="163.30" y1="150.20" x2="163.30" y2="239.10" stroke="#a8a8a8" stroke-width="1"/>
<line x1="19.50" y1="150.20" x2="19.50" y2="239.10" stroke="#a0a0a0" stroke-width="1.2"/>
<line x1="19.50" y1="239.10" x2="163.30" y2="239.10" stroke="#a0a0a0" stroke-width="1.2"/>
<line x1="17.90" y1="239.10" x2="19.50" y2="239.10" stroke="#8a8a8a" stroke-width="1"/>
<text x="16.60" y="241.20" font-size="4.6" text-anchor="end" fill="#000" stroke="#000" stroke-width="0.08">0.0</text>
<line x1="17.90" y1="226.40" x2="19.50" y2="226.40" stroke="#8a8a8a" stroke-width="1"/>
<text x="16.60" y="228.50" font-size="4.6" text-anchor="end" fill="#000" stroke="#000" stroke-width="0.08">2.0</text>
<line x1="17.90" y1="213.70" x2="19.50" y2="213.70" stroke="#8a8a8a" stroke-width="1"/>
<text x="16.60" y="215.80" font-size="4.6" text-anchor="end" fill="#000" stroke="#000" stroke-width="0.08">4.0</text>
<line x1="17.90" y1="201.00" x2="19.50" y2="201.00" stroke="#8a8a8a" stroke-width="1"/>
<text x="16.60" y="203.10" font-size="4.6" text-anchor="end" fill="#000" stroke="#000" stroke-width="0.08">6.0</text>
<line x1="17.90" y1="188.30" x2="19.50" y2="188.30" stroke="#8a8a8a" stroke-width="1"/>
<text x="16.60" y="190.40" font-size="4.6" text-anchor="end" fill="#000" stroke="#000" stroke-width="0.08">8.0</text>
<line x1="17.90" y1="175.60" x2="19.50" y2="175.60" stroke="#8a8a8a" stroke-width="1"/>
<text x="16.60" y="177.70" font-size="4.6" text-anchor="end" fill="#000" stroke="#000" stroke-width="0.08">10.0</text>
<line x1="17.90" y1="162.90" x2="19.50" y2="162.90" stroke="#8a8a8a" stroke-width="1"/>
<text x="16.60" y="165.00" font-size="4.6" text-anchor="end" fill="#000" stroke="#000" stroke-width="0.08">12.0</text>
<line x1="17.90" y1="150.20" x2="19.50" y2="150.20" stroke="#8a8a8a" stroke-width="1"/>
<text x="16.60" y="152.30" font-size="4.6" text-anchor="end" fill="#000" stroke="#000" stroke-width="0.08">14.0</text>
<line x1="19.50" y1="239.10" x2="19.50" y2="240.70" stroke="#8a8a8a" stroke-width="1"/>
<text x="19.50" y="247.80" font-size="4.6" text-anchor="middle" fill="#000" stroke="#000" stroke-width="0.08">0</text>
<line x1="48.26" y1="239.10" x2="48.26" y2="240.70" stroke="#8a8a8a" stroke-width="1"/>
<text x="48.26" y="247.80" font-size="4.6" text-anchor="middle" fill="#000" stroke="#000" stroke-width="0.08">20</text>
<line x1="77.02" y1="239.10" x2="77.02" y2="240.70" stroke="#8a8a8a" stroke-width="1"/>
<text x="77.02" y="247.80" font-size="4.6" text-anchor="middle" fill="#000" stroke="#000" stroke-width="0.08">40</text>
<line x1="105.78" y1="239.10" x2="105.78" y2="240.70" stroke="#8a8a8a" stroke-width="1"/>
<text x="105.78" y="247.80" font-size="4.6" text-anchor="middle" fill="#000" stroke="#000" stroke-width="0.08">60</text>
<line x1="134.54" y1="239.10" x2="134.54" y2="240.70" stroke="#8a8a8a" stroke-width="1"/>
<text x="134.54" y="247.80" font-size="4.6" text-anchor="middle" fill="#000" stroke="#000" stroke-width="0.08">80</text>
<line x1="163.30" y1="239.10" x2="163.30" y2="240.70" stroke="#8a8a8a" stroke-width="1"/>
<text x="163.30" y="247.80" font-size="4.6" text-anchor="middle" fill="#000" stroke="#000" stroke-width="0.08">100</text>
<polyline points="19.50,164.38 23.09,167.31 26.69,170.00 30.29,172.46 33.88,174.69 37.48,176.72 41.07,178.55 44.67,180.19 48.26,181.66 51.86,182.96 55.45,184.11 59.05,185.11 62.64,185.99 66.24,186.75 69.83,187.40 73.43,187.95 77.02,188.42 80.62,188.81 84.21,189.15 87.81,189.43 91.40,189.67 95.00,189.88 98.59,190.08 102.19,190.27 105.78,190.47 109.38,190.68 112.97,190.92 116.57,191.20 120.16,191.53 123.76,191.93 127.35,192.40 130.94,192.95 134.54,193.60 138.14,194.35 141.73,195.23 145.33,196.23 148.92,197.38 152.52,198.68 156.11,200.14 159.71,201.78 163.30,203.60" fill="none" stroke="#1a1a1a" stroke-width="0.9"/>
<polyline points="19.50,171.17 23.09,174.11 26.69,176.80 30.29,179.25 33.88,181.49 37.48,183.51 41.07,185.34 44.67,186.98 48.26,188.45 51.86,189.75 55.45,190.90 59.05,191.91 62.64,192.78 66.24,193.54 69.83,194.19 73.43,194.74 77.02,195.21 80.62,195.61 84.21,195.94 87.81,196.22 91.40,196.46 95.00,196.68 98.59,196.87 102.19,197.07 105.78,197.26 109.38,197.47 112.97,197.72 116.57,198.00 120.16,198.33 123.76,198.72 127.35,199.19 130.94,199.74 134.54,200.39 138.14,201.15 141.73,202.02 145.33,203.03 148.92,204.17 152.52,205.47 156.11,206.93 159.71,208.57 163.30,210.40" fill="none" stroke="#1a1a1a" stroke-width="0.9"/>
<polyline points="19.50,177.71 23.09,180.65 26.69,183.34 30.29,185.79 33.88,188.03 37.48,190.06 41.07,191.88 44.67,193.52 48.26,194.99 51.86,196.29 55.45,197.44 59.05,198.45 62.64,199.32 66.24,200.08 69.83,200.73 73.43,201.29 77.02,201.75 80.62,202.15 84.21,202.48 87.81,202.76 91.40,203.01 95.00,203.22 98.59,203.42 102.19,203.61 105.78,203.80 109.38,204.02 112.97,204.26 116.57,204.54 120.16,204.87 123.76,205.26 127.35,205.73 130.94,206.28 134.54,206.93 138.14,207.69 141.73,208.56 145.33,209.57 148.92,210.71 152.52,212.01 156.11,213.47 159.71,215.11 163.30,216.94" fill="none" stroke="#1a1a1a" stroke-width="0.9"/>
<polyline points="19.50,185.40 23.09,188.33 26.69,191.02 30.29,193.48 33.88,195.71 37.48,197.74 41.07,199.57 44.67,201.21 48.26,202.67 51.86,203.98 55.45,205.12 59.05,206.13 62.64,207.01 66.24,207.77 69.83,208.42 73.43,208.97 77.02,209.44 80.62,209.83 84.21,210.17 87.81,210.45 91.40,210.69 95.00,210.90 98.59,211.10 102.19,211.29 105.78,211.49 109.38,211.70 112.97,211.94 116.57,212.22 120.16,212.55 123.76,212.95 127.35,213.41 130.94,213.97 134.54,214.61 138.14,215.37 141.73,216.24 145.33,217.25 148.92,218.40 152.52,219.69 156.11,221.16 159.71,222.80 163.30,224.62" fill="none" stroke="#1a1a1a" stroke-width="0.9"/>
<polyline points="19.50,191.05 23.09,193.98 26.69,196.67 30.29,199.13 33.88,201.36 37.48,203.39 41.07,205.22 44.67,206.86 48.26,208.33 51.86,209.63 55.45,210.78 59.05,211.78 62.64,212.66 66.24,213.42 69.83,214.07 73.43,214.62 77.02,215.09 80.62,215.48 84.21,215.82 87.81,216.10 91.40,216.34 95.00,216.55 98.59,216.75 102.19,216.94 105.78,217.14 109.38,217.35 112.97,217.59 116.57,217.87 120.16,218.20 123.76,218.60 127.35,219.07 130.94,219.62 134.54,220.27 138.14,221.02 141.73,221.90 145.33,222.90 148.92,224.05 152.52,225.35 156.11,226.81 159.71,228.45 163.30,230.27" fill="none" stroke="#1a1a1a" stroke-width="0.9"/>
<circle cx="23.60" cy="210.20" r="1.65" fill="#da1020"/>
<circle cx="33.80" cy="207.60" r="1.65" fill="#da1020"/>
<circle cx="35.20" cy="209.40" r="1.65" fill="#da1020"/>
<circle cx="38.00" cy="211.90" r="1.65" fill="#da1020"/>
<circle cx="26.80" cy="214.00" r="1.65" fill="#da1020"/>
<circle cx="26.80" cy="216.50" r="1.65" fill="#da1020"/>
<circle cx="33.80" cy="214.70" r="1.65" fill="#da1020"/>
<circle cx="21.20" cy="220.30" r="1.65" fill="#da1020"/>
<circle cx="23.30" cy="219.60" r="1.65" fill="#da1020"/>
<circle cx="28.20" cy="221.70" r="1.65" fill="#da1020"/>
<circle cx="31.00" cy="219.60" r="1.65" fill="#da1020"/>
<circle cx="26.80" cy="225.20" r="1.65" fill="#da1020"/>
<circle cx="38.00" cy="217.50" r="1.65" fill="#da1020"/>
<circle cx="40.80" cy="218.90" r="1.65" fill="#da1020"/>
<circle cx="49.90" cy="219.60" r="1.65" fill="#da1020"/>
<circle cx="51.30" cy="216.80" r="1.65" fill="#da1020"/>
<circle cx="52.70" cy="218.20" r="1.65" fill="#da1020"/>
<circle cx="55.50" cy="214.70" r="1.65" fill="#da1020"/>
<circle cx="58.30" cy="213.30" r="1.65" fill="#da1020"/>
<circle cx="58.30" cy="217.10" r="1.65" fill="#da1020"/>
<circle cx="65.30" cy="214.70" r="1.65" fill="#da1020"/>
<circle cx="63.90" cy="205.70" r="1.65" fill="#da1020"/>
<circle cx="75.10" cy="208.80" r="1.65" fill="#da1020"/>
<circle cx="80.70" cy="215.40" r="1.65" fill="#da1020"/>
<circle cx="86.30" cy="216.10" r="1.65" fill="#da1020"/>
<path d="M48.50 168.06L50.35 171.76L46.65 171.76Z" fill="#000"/>
<path d="M21.20 169.77L23.05 173.47L19.35 173.47Z" fill="#000"/>
<path d="M21.90 171.16L23.75 174.86L20.05 174.86Z" fill="#000"/>
<path d="M20.50 173.27L22.35 176.97L18.65 176.97Z" fill="#000"/>
<path d="M26.80 175.37L28.65 179.06L24.95 179.06Z" fill="#000"/>
<path d="M32.40 175.06L34.25 178.76L30.55 178.76Z" fill="#000"/>
<path d="M44.30 176.56L46.15 180.26L42.45 180.26Z" fill="#000"/>
<path d="M27.10 180.06L28.95 183.76L25.25 183.76Z" fill="#000"/>
<path d="M29.60 184.16L31.45 187.86L27.75 187.86Z" fill="#000"/>
<path d="M31.00 185.56L32.85 189.26L29.15 189.26Z" fill="#000"/>
<path d="M24.00 186.27L25.85 189.97L22.15 189.97Z" fill="#000"/>
<path d="M35.20 186.27L37.05 189.97L33.35 189.97Z" fill="#000"/>
<path d="M40.80 184.16L42.65 187.86L38.95 187.86Z" fill="#000"/>
<path d="M40.10 186.27L41.95 189.97L38.25 189.97Z" fill="#000"/>
<path d="M39.40 188.37L41.25 192.06L37.55 192.06Z" fill="#000"/>
<path d="M38.00 190.47L39.85 194.16L36.15 194.16Z" fill="#000"/>
<path d="M46.40 184.16L48.25 187.86L44.55 187.86Z" fill="#000"/>
<path d="M49.90 184.87L51.75 188.56L48.05 188.56Z" fill="#000"/>
<path d="M27.50 190.47L29.35 194.16L25.65 194.16Z" fill="#000"/>
<path d="M37.30 192.56L39.15 196.26L35.45 196.26Z" fill="#000"/>
<path d="M27.50 195.37L29.35 199.06L25.65 199.06Z" fill="#000"/>
<path d="M28.20 197.47L30.05 201.16L26.35 201.16Z" fill="#000"/>
<path d="M45.70 195.37L47.55 199.06L43.85 199.06Z" fill="#000"/>
<path d="M46.40 198.16L48.25 201.86L44.55 201.86Z" fill="#000"/>
<path d="M57.60 194.66L59.45 198.36L55.75 198.36Z" fill="#000"/>
<path d="M59.00 195.37L60.85 199.06L57.15 199.06Z" fill="#000"/>
<path d="M56.20 197.47L58.05 201.16L54.35 201.16Z" fill="#000"/>
<path d="M63.90 196.06L65.75 199.76L62.05 199.76Z" fill="#000"/>
<path d="M59.70 199.56L61.55 203.26L57.85 203.26Z" fill="#000"/>
<path d="M62.50 199.56L64.35 203.26L60.65 203.26Z" fill="#000"/>
<path d="M38.70 200.47L40.55 204.16L36.85 204.16Z" fill="#000"/>
<path d="M44.70 204.37L46.55 208.06L42.85 208.06Z" fill="#000"/>
<path d="M65.60 204.66L67.45 208.36L63.75 208.36Z" fill="#000"/>
<path d="M67.70 207.16L69.55 210.86L65.85 210.86Z" fill="#000"/>
<path d="M66.70 205.87L68.55 209.56L64.85 209.56Z" fill="#000"/>
<path d="M41.50 186.27L43.35 189.97L39.65 189.97Z" fill="#000"/>
<path d="M42.20 184.87L44.05 188.56L40.35 188.56Z" fill="#000"/>
<path d="M39.40 186.97L41.25 190.66L37.55 190.66Z" fill="#000"/>
<path d="M81.40 195.37L83.25 199.06L79.55 199.06Z" fill="#000"/>
<path d="M80.00 201.16L81.85 204.86L78.15 204.86Z" fill="#000"/>
<path d="M80.00 205.77L81.85 209.47L78.15 209.47Z" fill="#000"/>
<rect x="132.40" y="150.70" width="30.70" height="23.30" fill="#fff" stroke="#a0a0a0" stroke-width="0.9"/>
<circle cx="138.00" cy="157.70" r="1.9" fill="#da1020"/>
<text x="140.90" y="159.50" font-size="4.7" fill="#000" stroke="#000" stroke-width="0.15">DC</text>
<path d="M138.00 165.78L140.20 170.18L135.80 170.18Z" fill="#000"/>
<text x="140.90" y="170.00" font-size="4.7" fill="#000" stroke="#000" stroke-width="0.15">Non-DC</text>
<text x="83.05" y="139.50" font-size="7.25" font-weight="bold" text-anchor="middle" fill="#000" stroke="#000" stroke-width="0.35">Memory T-Cells</text>
<text x="91.80" y="255.80" font-size="4.6" letter-spacing="0.15" stroke="#000" stroke-width="0.22" font-weight="bold" text-anchor="middle" fill="#111">Age, years</text>
<text transform="translate(3.70,195.15) rotate(-90)" x="0" y="0" font-size="4.6" letter-spacing="0.15" stroke="#000" stroke-width="0.22" font-weight="bold" text-anchor="middle" fill="#111">Telomere Length, kb</text>
<line x1="196.50" y1="225.83" x2="338.50" y2="225.83" stroke="#a8a8a8" stroke-width="1"/>
<line x1="196.50" y1="213.26" x2="338.50" y2="213.26" stroke="#a8a8a8" stroke-width="1"/>
<line x1="196.50" y1="200.69" x2="338.50" y2="200.69" stroke="#a8a8a8" stroke-width="1"/>
<line x1="196.50" y1="188.11" x2="338.50" y2="188.11" stroke="#a8a8a8" stroke-width="1"/>
<line x1="196.50" y1="175.54" x2="338.50" y2="175.54" stroke="#a8a8a8" stroke-width="1"/>
<line x1="196.50" y1="162.97" x2="338.50" y2="162.97" stroke="#a8a8a8" stroke-width="1"/>
<line x1="196.50" y1="150.40" x2="338.50" y2="150.40" stroke="#a8a8a8" stroke-width="1"/>
<line x1="338.50" y1="150.40" x2="338.50" y2="238.40" stroke="#a8a8a8" stroke-width="1"/>
<line x1="196.50" y1="150.40" x2="196.50" y2="238.40" stroke="#a0a0a0" stroke-width="1.2"/>
<line x1="196.50" y1="238.40" x2="338.50" y2="238.40" stroke="#a0a0a0" stroke-width="1.2"/>
<line x1="194.90" y1="238.40" x2="196.50" y2="238.40" stroke="#8a8a8a" stroke-width="1"/>
<text x="193.60" y="240.50" font-size="4.6" text-anchor="end" fill="#000" stroke="#000" stroke-width="0.08">0.0</text>
<line x1="194.90" y1="225.83" x2="196.50" y2="225.83" stroke="#8a8a8a" stroke-width="1"/>
<text x="193.60" y="227.93" font-size="4.6" text-anchor="end" fill="#000" stroke="#000" stroke-width="0.08">2.0</text>
<line x1="194.90" y1="213.26" x2="196.50" y2="213.26" stroke="#8a8a8a" stroke-width="1"/>
<text x="193.60" y="215.36" font-size="4.6" text-anchor="end" fill="#000" stroke="#000" stroke-width="0.08">4.0</text>
<line x1="194.90" y1="200.69" x2="196.50" y2="200.69" stroke="#8a8a8a" stroke-width="1"/>
<text x="193.60" y="202.79" font-size="4.6" text-anchor="end" fill="#000" stroke="#000" stroke-width="0.08">6.0</text>
<line x1="194.90" y1="188.11" x2="196.50" y2="188.11" stroke="#8a8a8a" stroke-width="1"/>
<text x="193.60" y="190.21" font-size="4.6" text-anchor="end" fill="#000" stroke="#000" stroke-width="0.08">8.0</text>
<line x1="194.90" y1="175.54" x2="196.50" y2="175.54" stroke="#8a8a8a" stroke-width="1"/>
<text x="193.60" y="177.64" font-size="4.6" text-anchor="end" fill="#000" stroke="#000" stroke-width="0.08">10.0</text>
<line x1="194.90" y1="162.97" x2="196.50" y2="162.97" stroke="#8a8a8a" stroke-width="1"/>
<text x="193.60" y="165.07" font-size="4.6" text-anchor="end" fill="#000" stroke="#000" stroke-width="0.08">12.0</text>
<line x1="194.90" y1="150.40" x2="196.50" y2="150.40" stroke="#8a8a8a" stroke-width="1"/>
<text x="193.60" y="152.50" font-size="4.6" text-anchor="end" fill="#000" stroke="#000" stroke-width="0.08">14.0</text>
<line x1="196.50" y1="238.40" x2="196.50" y2="240.00" stroke="#8a8a8a" stroke-width="1"/>
<text x="196.50" y="247.10" font-size="4.6" text-anchor="middle" fill="#000" stroke="#000" stroke-width="0.08">0</text>
<line x1="224.90" y1="238.40" x2="224.90" y2="240.00" stroke="#8a8a8a" stroke-width="1"/>
<text x="224.90" y="247.10" font-size="4.6" text-anchor="middle" fill="#000" stroke="#000" stroke-width="0.08">20</text>
<line x1="253.30" y1="238.40" x2="253.30" y2="240.00" stroke="#8a8a8a" stroke-width="1"/>
<text x="253.30" y="247.10" font-size="4.6" text-anchor="middle" fill="#000" stroke="#000" stroke-width="0.08">40</text>
<line x1="281.70" y1="238.40" x2="281.70" y2="240.00" stroke="#8a8a8a" stroke-width="1"/>
<text x="281.70" y="247.10" font-size="4.6" text-anchor="middle" fill="#000" stroke="#000" stroke-width="0.08">60</text>
<line x1="310.10" y1="238.40" x2="310.10" y2="240.00" stroke="#8a8a8a" stroke-width="1"/>
<text x="310.10" y="247.10" font-size="4.6" text-anchor="middle" fill="#000" stroke="#000" stroke-width="0.08">80</text>
<line x1="338.50" y1="238.40" x2="338.50" y2="240.00" stroke="#8a8a8a" stroke-width="1"/>
<text x="338.50" y="247.10" font-size="4.6" text-anchor="middle" fill="#000" stroke="#000" stroke-width="0.08">100</text>
<polyline points="196.50,160.97 200.05,162.73 203.60,164.35 207.15,165.84 210.70,167.19 214.25,168.42 217.80,169.52 221.35,170.52 224.90,171.41 228.45,172.21 232.00,172.91 235.55,173.53 239.10,174.07 242.65,174.54 246.20,174.94 249.75,175.29 253.30,175.58 256.85,175.83 260.40,176.04 263.95,176.22 267.50,176.38 271.05,176.52 274.60,176.64 278.15,176.76 281.70,176.88 285.25,177.01 288.80,177.16 292.35,177.33 295.90,177.52 299.45,177.75 303.00,178.02 306.55,178.34 310.10,178.72 313.65,179.16 317.20,179.66 320.75,180.24 324.30,180.91 327.85,181.66 331.40,182.50 334.95,183.45 338.50,184.50" fill="none" stroke="#1a1a1a" stroke-width="0.9"/>
<polyline points="196.50,167.44 200.05,169.21 203.60,170.83 207.15,172.31 210.70,173.66 214.25,174.89 217.80,176.00 221.35,177.00 224.90,177.89 228.45,178.68 232.00,179.39 235.55,180.01 239.10,180.55 242.65,181.01 246.20,181.42 249.75,181.76 253.30,182.06 256.85,182.31 260.40,182.52 263.95,182.70 267.50,182.85 271.05,182.99 274.60,183.11 278.15,183.23 281.70,183.36 285.25,183.49 288.80,183.63 292.35,183.80 295.90,183.99 299.45,184.23 303.00,184.50 306.55,184.82 310.10,185.19 313.65,185.63 317.20,186.14 320.75,186.72 324.30,187.38 327.85,188.13 331.40,188.98 334.95,189.92 338.50,190.98" fill="none" stroke="#1a1a1a" stroke-width="0.9"/>
<polyline points="196.50,175.05 200.05,176.81 203.60,178.43 207.15,179.92 210.70,181.27 214.25,182.50 217.80,183.60 221.35,184.60 224.90,185.49 228.45,186.29 232.00,186.99 235.55,187.61 239.10,188.15 242.65,188.62 246.20,189.02 249.75,189.37 253.30,189.66 256.85,189.91 260.40,190.12 263.95,190.30 267.50,190.46 271.05,190.60 274.60,190.72 278.15,190.84 281.70,190.96 285.25,191.09 288.80,191.24 292.35,191.41 295.90,191.60 299.45,191.83 303.00,192.10 306.55,192.42 310.10,192.80 313.65,193.24 317.20,193.74 320.75,194.32 324.30,194.99 327.85,195.74 331.40,196.58 334.95,197.53 338.50,198.58" fill="none" stroke="#1a1a1a" stroke-width="0.9"/>
<polyline points="196.50,183.15 200.05,184.92 203.60,186.54 207.15,188.03 210.70,189.38 214.25,190.60 217.80,191.71 221.35,192.71 224.90,193.60 228.45,194.40 232.00,195.10 235.55,195.72 239.10,196.26 242.65,196.73 246.20,197.13 249.75,197.48 253.30,197.77 256.85,198.02 260.40,198.23 263.95,198.41 267.50,198.57 271.05,198.70 274.60,198.83 278.15,198.95 281.70,199.07 285.25,199.20 288.80,199.35 292.35,199.51 295.90,199.71 299.45,199.94 303.00,200.21 306.55,200.53 310.10,200.91 313.65,201.35 317.20,201.85 320.75,202.43 324.30,203.09 327.85,203.84 331.40,204.69 334.95,205.64 338.50,206.69" fill="none" stroke="#1a1a1a" stroke-width="0.9"/>
<polyline points="196.50,189.57 200.05,191.33 203.60,192.95 207.15,194.44 210.70,195.79 214.25,197.02 217.80,198.12 221.35,199.12 224.90,200.01 228.45,200.81 232.00,201.51 235.55,202.13 239.10,202.67 242.65,203.14 246.20,203.54 249.75,203.89 253.30,204.18 256.85,204.43 260.40,204.64 263.95,204.82 267.50,204.98 271.05,205.12 274.60,205.24 278.15,205.36 281.70,205.48 285.25,205.61 288.80,205.76 292.35,205.93 295.90,206.12 299.45,206.35 303.00,206.62 306.55,206.94 310.10,207.32 313.65,207.76 317.20,208.26 320.75,208.84 324.30,209.51 327.85,210.26 331.40,211.10 334.95,212.05 338.50,213.10" fill="none" stroke="#1a1a1a" stroke-width="0.9"/>
<circle cx="212.20" cy="198.60" r="1.65" fill="#da1020"/>
<circle cx="200.30" cy="203.50" r="1.65" fill="#da1020"/>
<circle cx="210.80" cy="203.50" r="1.65" fill="#da1020"/>
<circle cx="211.50" cy="204.70" r="1.65" fill="#da1020"/>
<circle cx="215.00" cy="206.10" r="1.65" fill="#da1020"/>
<circle cx="227.60" cy="209.00" r="1.65" fill="#da1020"/>
<circle cx="231.80" cy="206.80" r="1.65" fill="#da1020"/>
<circle cx="234.60" cy="206.10" r="1.65" fill="#da1020"/>
<circle cx="240.50" cy="200.70" r="1.65" fill="#da1020"/>
<circle cx="242.30" cy="205.40" r="1.65" fill="#da1020"/>
<circle cx="251.40" cy="200.00" r="1.65" fill="#da1020"/>
<circle cx="257.70" cy="204.40" r="1.65" fill="#da1020"/>
<circle cx="263.30" cy="207.40" r="1.65" fill="#da1020"/>
<circle cx="215.00" cy="209.90" r="1.65" fill="#da1020"/>
<circle cx="217.80" cy="210.60" r="1.65" fill="#da1020"/>
<circle cx="203.80" cy="210.60" r="1.65" fill="#da1020"/>
<circle cx="198.20" cy="218.30" r="1.65" fill="#da1020"/>
<circle cx="200.30" cy="217.60" r="1.65" fill="#da1020"/>
<circle cx="203.80" cy="215.50" r="1.65" fill="#da1020"/>
<circle cx="205.20" cy="215.10" r="1.65" fill="#da1020"/>
<circle cx="201.70" cy="216.90" r="1.65" fill="#da1020"/>
<circle cx="208.00" cy="216.20" r="1.65" fill="#da1020"/>
<circle cx="203.80" cy="221.80" r="1.65" fill="#da1020"/>
<circle cx="226.20" cy="214.10" r="1.65" fill="#da1020"/>
<circle cx="229.00" cy="212.00" r="1.65" fill="#da1020"/>
<circle cx="234.60" cy="212.00" r="1.65" fill="#da1020"/>
<path d="M225.10 158.27L226.95 161.97L223.25 161.97Z" fill="#000"/>
<path d="M209.40 167.66L211.25 171.36L207.55 171.36Z" fill="#000"/>
<path d="M221.30 167.66L223.15 171.36L219.45 171.36Z" fill="#000"/>
<path d="M198.50 171.47L200.35 175.16L196.65 175.16Z" fill="#000"/>
<path d="M199.60 172.47L201.45 176.16L197.75 176.16Z" fill="#000"/>
<path d="M203.80 174.66L205.65 178.36L201.95 178.36Z" fill="#000"/>
<path d="M205.90 176.47L207.75 180.16L204.05 180.16Z" fill="#000"/>
<path d="M208.30 177.66L210.15 181.36L206.45 181.36Z" fill="#000"/>
<path d="M216.00 177.16L217.85 180.86L214.15 180.86Z" fill="#000"/>
<path d="M217.10 178.56L218.95 182.26L215.25 182.26Z" fill="#000"/>
<path d="M216.40 179.66L218.25 183.36L214.55 183.36Z" fill="#000"/>
<path d="M223.40 176.47L225.25 180.16L221.55 180.16Z" fill="#000"/>
<path d="M201.00 180.97L202.85 184.66L199.15 184.66Z" fill="#000"/>
<path d="M205.20 182.47L207.05 186.16L203.35 186.16Z" fill="#000"/>
<path d="M208.00 182.47L209.85 186.16L206.15 186.16Z" fill="#000"/>
<path d="M212.90 182.47L214.75 186.16L211.05 186.16Z" fill="#000"/>
<path d="M216.40 183.16L218.25 186.86L214.55 186.86Z" fill="#000"/>
<path d="M198.20 190.16L200.05 193.86L196.35 193.86Z" fill="#000"/>
<path d="M203.80 187.37L205.65 191.06L201.95 191.06Z" fill="#000"/>
<path d="M205.20 188.77L207.05 192.47L203.35 192.47Z" fill="#000"/>
<path d="M205.90 191.56L207.75 195.26L204.05 195.26Z" fill="#000"/>
<path d="M213.60 187.37L215.45 191.06L211.75 191.06Z" fill="#000"/>
<path d="M222.70 185.97L224.55 189.66L220.85 189.66Z" fill="#000"/>
<path d="M232.50 184.56L234.35 188.26L230.65 188.26Z" fill="#000"/>
<path d="M234.60 185.27L236.45 188.97L232.75 188.97Z" fill="#000"/>
<path d="M236.00 185.97L237.85 189.66L234.15 189.66Z" fill="#000"/>
<path d="M238.80 186.66L240.65 190.36L236.95 190.36Z" fill="#000"/>
<path d="M241.60 188.77L243.45 192.47L239.75 192.47Z" fill="#000"/>
<path d="M242.30 190.16L244.15 193.86L240.45 193.86Z" fill="#000"/>
<path d="M240.20 191.56L242.05 195.26L238.35 195.26Z" fill="#000"/>
<path d="M215.00 192.97L216.85 196.66L213.15 196.66Z" fill="#000"/>
<path d="M215.70 195.06L217.55 198.76L213.85 198.76Z" fill="#000"/>
<path d="M219.90 195.06L221.75 198.76L218.05 198.76Z" fill="#000"/>
<path d="M221.30 197.16L223.15 200.86L219.45 200.86Z" fill="#000"/>
<path d="M223.40 193.66L225.25 197.36L221.55 197.36Z" fill="#000"/>
<path d="M243.00 194.37L244.85 198.06L241.15 198.06Z" fill="#000"/>
<path d="M256.30 183.87L258.15 187.56L254.45 187.56Z" fill="#000"/>
<path d="M257.70 185.27L259.55 188.97L255.85 188.97Z" fill="#000"/>
<rect x="308.20" y="151.10" width="30.30" height="21.90" fill="#fff" stroke="#a0a0a0" stroke-width="0.9"/>
<circle cx="313.80" cy="157.00" r="1.9" fill="#da1020"/>
<text x="316.90" y="158.80" font-size="4.7" fill="#000" stroke="#000" stroke-width="0.15">DC</text>
<path d="M313.80 164.78L316.00 169.18L311.60 169.18Z" fill="#000"/>
<text x="316.90" y="169.00" font-size="4.7" fill="#000" stroke="#000" stroke-width="0.15">Non-DC</text>
<text x="259.45" y="139.50" font-size="7.25" font-weight="bold" text-anchor="middle" fill="#000" stroke="#000" stroke-width="0.35">B-Cells</text>
<text x="267.90" y="255.10" font-size="4.6" letter-spacing="0.15" stroke="#000" stroke-width="0.22" font-weight="bold" text-anchor="middle" fill="#111">Age, years</text>
<text transform="translate(180.70,194.90) rotate(-90)" x="0" y="0" font-size="4.6" letter-spacing="0.15" stroke="#000" stroke-width="0.22" font-weight="bold" text-anchor="middle" fill="#111">Telomere Length, kb</text>
<line x1="374.40" y1="224.83" x2="516.10" y2="224.83" stroke="#a8a8a8" stroke-width="1"/>
<line x1="374.40" y1="212.26" x2="516.10" y2="212.26" stroke="#a8a8a8" stroke-width="1"/>
<line x1="374.40" y1="199.69" x2="516.10" y2="199.69" stroke="#a8a8a8" stroke-width="1"/>
<line x1="374.40" y1="187.11" x2="516.10" y2="187.11" stroke="#a8a8a8" stroke-width="1"/>
<line x1="374.40" y1="174.54" x2="516.10" y2="174.54" stroke="#a8a8a8" stroke-width="1"/>
<line x1="374.40" y1="161.97" x2="516.10" y2="161.97" stroke="#a8a8a8" stroke-width="1"/>
<line x1="374.40" y1="149.40" x2="516.10" y2="149.40" stroke="#a8a8a8" stroke-width="1"/>
<line x1="516.10" y1="149.40" x2="516.10" y2="237.40" stroke="#a8a8a8" stroke-width="1"/>
<line x1="374.40" y1="149.40" x2="374.40" y2="237.40" stroke="#a0a0a0" stroke-width="1.2"/>
<line x1="374.40" y1="237.40" x2="516.10" y2="237.40" stroke="#a0a0a0" stroke-width="1.2"/>
<line x1="372.80" y1="237.40" x2="374.40" y2="237.40" stroke="#8a8a8a" stroke-width="1"/>
<text x="371.50" y="239.50" font-size="4.6" text-anchor="end" fill="#000" stroke="#000" stroke-width="0.08">0.0</text>
<line x1="372.80" y1="224.83" x2="374.40" y2="224.83" stroke="#8a8a8a" stroke-width="1"/>
<text x="371.50" y="226.93" font-size="4.6" text-anchor="end" fill="#000" stroke="#000" stroke-width="0.08">2.0</text>
<line x1="372.80" y1="212.26" x2="374.40" y2="212.26" stroke="#8a8a8a" stroke-width="1"/>
<text x="371.50" y="214.36" font-size="4.6" text-anchor="end" fill="#000" stroke="#000" stroke-width="0.08">4.0</text>
<line x1="372.80" y1="199.69" x2="374.40" y2="199.69" stroke="#8a8a8a" stroke-width="1"/>
<text x="371.50" y="201.79" font-size="4.6" text-anchor="end" fill="#000" stroke="#000" stroke-width="0.08">6.0</text>
<line x1="372.80" y1="187.11" x2="374.40" y2="187.11" stroke="#8a8a8a" stroke-width="1"/>
<text x="371.50" y="189.21" font-size="4.6" text-anchor="end" fill="#000" stroke="#000" stroke-width="0.08">8.0</text>
<line x1="372.80" y1="174.54" x2="374.40" y2="174.54" stroke="#8a8a8a" stroke-width="1"/>
<text x="371.50" y="176.64" font-size="4.6" text-anchor="end" fill="#000" stroke="#000" stroke-width="0.08">10.0</text>
<line x1="372.80" y1="161.97" x2="374.40" y2="161.97" stroke="#8a8a8a" stroke-width="1"/>
<text x="371.50" y="164.07" font-size="4.6" text-anchor="end" fill="#000" stroke="#000" stroke-width="0.08">12.0</text>
<line x1="372.80" y1="149.40" x2="374.40" y2="149.40" stroke="#8a8a8a" stroke-width="1"/>
<text x="371.50" y="151.50" font-size="4.6" text-anchor="end" fill="#000" stroke="#000" stroke-width="0.08">14.0</text>
<line x1="374.40" y1="237.40" x2="374.40" y2="239.00" stroke="#8a8a8a" stroke-width="1"/>
<text x="374.40" y="246.10" font-size="4.6" text-anchor="middle" fill="#000" stroke="#000" stroke-width="0.08">0</text>
<line x1="402.74" y1="237.40" x2="402.74" y2="239.00" stroke="#8a8a8a" stroke-width="1"/>
<text x="402.74" y="246.10" font-size="4.6" text-anchor="middle" fill="#000" stroke="#000" stroke-width="0.08">20</text>
<line x1="431.08" y1="237.40" x2="431.08" y2="239.00" stroke="#8a8a8a" stroke-width="1"/>
<text x="431.08" y="246.10" font-size="4.6" text-anchor="middle" fill="#000" stroke="#000" stroke-width="0.08">40</text>
<line x1="459.42" y1="237.40" x2="459.42" y2="239.00" stroke="#8a8a8a" stroke-width="1"/>
<text x="459.42" y="246.10" font-size="4.6" text-anchor="middle" fill="#000" stroke="#000" stroke-width="0.08">60</text>
<line x1="487.76" y1="237.40" x2="487.76" y2="239.00" stroke="#8a8a8a" stroke-width="1"/>
<text x="487.76" y="246.10" font-size="4.6" text-anchor="middle" fill="#000" stroke="#000" stroke-width="0.08">80</text>
<line x1="516.10" y1="237.40" x2="516.10" y2="239.00" stroke="#8a8a8a" stroke-width="1"/>
<text x="516.10" y="246.10" font-size="4.6" text-anchor="middle" fill="#000" stroke="#000" stroke-width="0.08">100</text>
<polyline points="374.40,155.61 377.94,157.49 381.48,159.22 385.03,160.80 388.57,162.25 392.11,163.57 395.65,164.76 399.20,165.84 402.74,166.82 406.28,167.69 409.82,168.46 413.37,169.15 416.91,169.76 420.45,170.30 424.00,170.77 427.54,171.19 431.08,171.55 434.62,171.87 438.17,172.15 441.71,172.41 445.25,172.64 448.79,172.86 452.34,173.07 455.88,173.28 459.42,173.49 462.96,173.72 466.50,173.98 470.05,174.26 473.59,174.57 477.13,174.93 480.68,175.34 484.22,175.80 487.76,176.33 491.30,176.94 494.85,177.62 498.39,178.38 501.93,179.24 505.47,180.20 509.01,181.27 512.56,182.45 516.10,183.76" fill="none" stroke="#1a1a1a" stroke-width="0.9"/>
<polyline points="374.40,162.33 377.94,164.21 381.48,165.94 385.03,167.53 388.57,168.98 392.11,170.29 395.65,171.49 399.20,172.57 402.74,173.54 406.28,174.41 409.82,175.19 413.37,175.88 416.91,176.49 420.45,177.02 424.00,177.50 427.54,177.91 431.08,178.27 434.62,178.59 438.17,178.88 441.71,179.13 445.25,179.37 448.79,179.58 452.34,179.79 455.88,180.00 459.42,180.22 462.96,180.45 466.50,180.70 470.05,180.98 473.59,181.30 477.13,181.66 480.68,182.06 484.22,182.53 487.76,183.06 491.30,183.66 494.85,184.34 498.39,185.11 501.93,185.97 505.47,186.93 509.01,188.00 512.56,189.18 516.10,190.48" fill="none" stroke="#1a1a1a" stroke-width="0.9"/>
<polyline points="374.40,170.69 377.94,172.57 381.48,174.30 385.03,175.89 388.57,177.34 392.11,178.65 395.65,179.85 399.20,180.93 402.74,181.90 406.28,182.77 409.82,183.55 413.37,184.24 416.91,184.85 420.45,185.38 424.00,185.86 427.54,186.27 431.08,186.63 434.62,186.95 438.17,187.24 441.71,187.49 445.25,187.73 448.79,187.94 452.34,188.15 455.88,188.36 459.42,188.58 462.96,188.81 466.50,189.06 470.05,189.34 473.59,189.66 477.13,190.02 480.68,190.42 484.22,190.89 487.76,191.42 491.30,192.02 494.85,192.70 498.39,193.47 501.93,194.33 505.47,195.29 509.01,196.36 512.56,197.54 516.10,198.84" fill="none" stroke="#1a1a1a" stroke-width="0.9"/>
<polyline points="374.40,179.68 377.94,181.56 381.48,183.29 385.03,184.88 388.57,186.32 392.11,187.64 395.65,188.84 399.20,189.92 402.74,190.89 406.28,191.76 409.82,192.54 413.37,193.23 416.91,193.84 420.45,194.37 424.00,194.85 427.54,195.26 431.08,195.62 434.62,195.94 438.17,196.23 441.71,196.48 445.25,196.71 448.79,196.93 452.34,197.14 455.88,197.35 459.42,197.57 462.96,197.80 466.50,198.05 470.05,198.33 473.59,198.65 477.13,199.00 480.68,199.41 484.22,199.88 487.76,200.41 491.30,201.01 494.85,201.69 498.39,202.46 501.93,203.32 505.47,204.28 509.01,205.34 512.56,206.53 516.10,207.83" fill="none" stroke="#1a1a1a" stroke-width="0.9"/>
<polyline points="374.40,186.53 377.94,188.41 381.48,190.14 385.03,191.73 388.57,193.18 392.11,194.49 395.65,195.69 399.20,196.77 402.74,197.74 406.28,198.61 409.82,199.39 413.37,200.08 416.91,200.69 420.45,201.22 424.00,201.70 427.54,202.11 431.08,202.47 434.62,202.79 438.17,203.08 441.71,203.33 445.25,203.57 448.79,203.78 452.34,203.99 455.88,204.20 459.42,204.42 462.96,204.65 466.50,204.90 470.05,205.18 473.59,205.50 477.13,205.86 480.68,206.26 484.22,206.73 487.76,207.26 491.30,207.86 494.85,208.54 498.39,209.31 501.93,210.17 505.47,211.13 509.01,212.20 512.56,213.38 516.10,214.68" fill="none" stroke="#1a1a1a" stroke-width="0.9"/>
<circle cx="389.50" cy="197.40" r="1.65" fill="#da1020"/>
<circle cx="378.30" cy="202.30" r="1.65" fill="#da1020"/>
<circle cx="388.80" cy="201.30" r="1.65" fill="#da1020"/>
<circle cx="418.20" cy="201.60" r="1.65" fill="#da1020"/>
<circle cx="429.40" cy="202.50" r="1.65" fill="#da1020"/>
<circle cx="419.60" cy="206.50" r="1.65" fill="#da1020"/>
<circle cx="392.30" cy="207.30" r="1.65" fill="#da1020"/>
<circle cx="388.80" cy="210.30" r="1.65" fill="#da1020"/>
<circle cx="393.00" cy="211.00" r="1.65" fill="#da1020"/>
<circle cx="395.10" cy="214.50" r="1.65" fill="#da1020"/>
<circle cx="381.10" cy="211.70" r="1.65" fill="#da1020"/>
<circle cx="385.30" cy="214.50" r="1.65" fill="#da1020"/>
<circle cx="376.20" cy="215.90" r="1.65" fill="#da1020"/>
<circle cx="378.30" cy="215.20" r="1.65" fill="#da1020"/>
<circle cx="378.30" cy="216.60" r="1.65" fill="#da1020"/>
<circle cx="382.50" cy="217.70" r="1.65" fill="#da1020"/>
<circle cx="381.10" cy="222.20" r="1.65" fill="#da1020"/>
<circle cx="404.20" cy="213.10" r="1.65" fill="#da1020"/>
<circle cx="405.60" cy="211.70" r="1.65" fill="#da1020"/>
<circle cx="406.30" cy="213.50" r="1.65" fill="#da1020"/>
<circle cx="409.80" cy="208.50" r="1.65" fill="#da1020"/>
<circle cx="411.90" cy="208.90" r="1.65" fill="#da1020"/>
<circle cx="412.60" cy="213.50" r="1.65" fill="#da1020"/>
<circle cx="435.00" cy="210.70" r="1.65" fill="#da1020"/>
<circle cx="440.60" cy="211.70" r="1.65" fill="#da1020"/>
<path d="M402.80 157.27L404.65 160.97L400.95 160.97Z" fill="#000"/>
<path d="M386.70 165.27L388.55 168.97L384.85 168.97Z" fill="#000"/>
<path d="M375.50 165.27L377.35 168.97L373.65 168.97Z" fill="#000"/>
<path d="M376.90 168.77L378.75 172.47L375.05 172.47Z" fill="#000"/>
<path d="M381.80 169.47L383.65 173.16L379.95 173.16Z" fill="#000"/>
<path d="M381.10 172.97L382.95 176.66L379.25 176.66Z" fill="#000"/>
<path d="M398.60 170.87L400.45 174.56L396.75 174.56Z" fill="#000"/>
<path d="M404.20 172.97L406.05 176.66L402.35 176.66Z" fill="#000"/>
<path d="M375.50 174.56L377.35 178.26L373.65 178.26Z" fill="#000"/>
<path d="M384.60 176.16L386.45 179.86L382.75 179.86Z" fill="#000"/>
<path d="M386.70 178.37L388.55 182.06L384.85 182.06Z" fill="#000"/>
<path d="M389.50 178.97L391.35 182.66L387.65 182.66Z" fill="#000"/>
<path d="M394.40 177.77L396.25 181.47L392.55 181.47Z" fill="#000"/>
<path d="M395.10 179.06L396.95 182.76L393.25 182.76Z" fill="#000"/>
<path d="M401.40 179.16L403.25 182.86L399.55 182.86Z" fill="#000"/>
<path d="M379.00 180.27L380.85 183.97L377.15 183.97Z" fill="#000"/>
<path d="M385.30 182.56L387.15 186.26L383.45 186.26Z" fill="#000"/>
<path d="M391.60 183.27L393.45 186.97L389.75 186.97Z" fill="#000"/>
<path d="M393.00 181.87L394.85 185.56L391.15 185.56Z" fill="#000"/>
<path d="M397.20 183.27L399.05 186.97L395.35 186.97Z" fill="#000"/>
<path d="M382.50 183.97L384.35 187.66L380.65 187.66Z" fill="#000"/>
<path d="M381.80 186.06L383.65 189.76L379.95 189.76Z" fill="#000"/>
<path d="M382.50 188.16L384.35 191.86L380.65 191.86Z" fill="#000"/>
<path d="M390.90 185.37L392.75 189.06L389.05 189.06Z" fill="#000"/>
<path d="M400.00 186.06L401.85 189.76L398.15 189.76Z" fill="#000"/>
<path d="M393.70 188.87L395.55 192.56L391.85 192.56Z" fill="#000"/>
<path d="M393.00 190.97L394.85 194.66L391.15 194.66Z" fill="#000"/>
<path d="M410.50 188.16L412.35 191.86L408.65 191.86Z" fill="#000"/>
<path d="M412.60 186.06L414.45 189.76L410.75 189.76Z" fill="#000"/>
<path d="M413.30 188.16L415.15 191.86L411.45 191.86Z" fill="#000"/>
<path d="M416.80 190.97L418.65 194.66L414.95 194.66Z" fill="#000"/>
<path d="M418.90 192.37L420.75 196.06L417.05 196.06Z" fill="#000"/>
<path d="M420.30 193.06L422.15 196.76L418.45 196.76Z" fill="#000"/>
<path d="M401.40 191.66L403.25 195.36L399.55 195.36Z" fill="#000"/>
<path d="M392.60 195.77L394.45 199.47L390.75 199.47Z" fill="#000"/>
<path d="M398.60 197.16L400.45 200.86L396.75 200.86Z" fill="#000"/>
<path d="M435.00 188.87L436.85 192.56L433.15 192.56Z" fill="#000"/>
<path d="M433.60 191.66L435.45 195.36L431.75 195.36Z" fill="#000"/>
<path d="M421.70 202.77L423.55 206.47L419.85 206.47Z" fill="#000"/>
<path d="M433.60 204.47L435.45 208.16L431.75 208.16Z" fill="#000"/>
<rect x="485.30" y="149.90" width="29.80" height="22.50" fill="#fff" stroke="#a0a0a0" stroke-width="0.9"/>
<circle cx="490.90" cy="156.40" r="1.9" fill="#da1020"/>
<text x="494.10" y="158.20" font-size="4.7" fill="#000" stroke="#000" stroke-width="0.15">DC</text>
<path d="M490.90 164.48L493.10 168.88L488.70 168.88Z" fill="#000"/>
<text x="494.10" y="168.70" font-size="4.7" fill="#000" stroke="#000" stroke-width="0.15">Non-DC</text>
<text x="436.95" y="139.10" font-size="7.25" font-weight="bold" text-anchor="middle" fill="#000" stroke="#000" stroke-width="0.35">Leukocytes</text>
<text x="445.65" y="254.10" font-size="4.6" letter-spacing="0.15" stroke="#000" stroke-width="0.22" font-weight="bold" text-anchor="middle" fill="#111">Age, years</text>
<text transform="translate(358.60,193.90) rotate(-90)" x="0" y="0" font-size="4.6" letter-spacing="0.15" stroke="#000" stroke-width="0.22" font-weight="bold" text-anchor="middle" fill="#111">Telomere Length, kb</text>
</g></svg></div></body></html>
